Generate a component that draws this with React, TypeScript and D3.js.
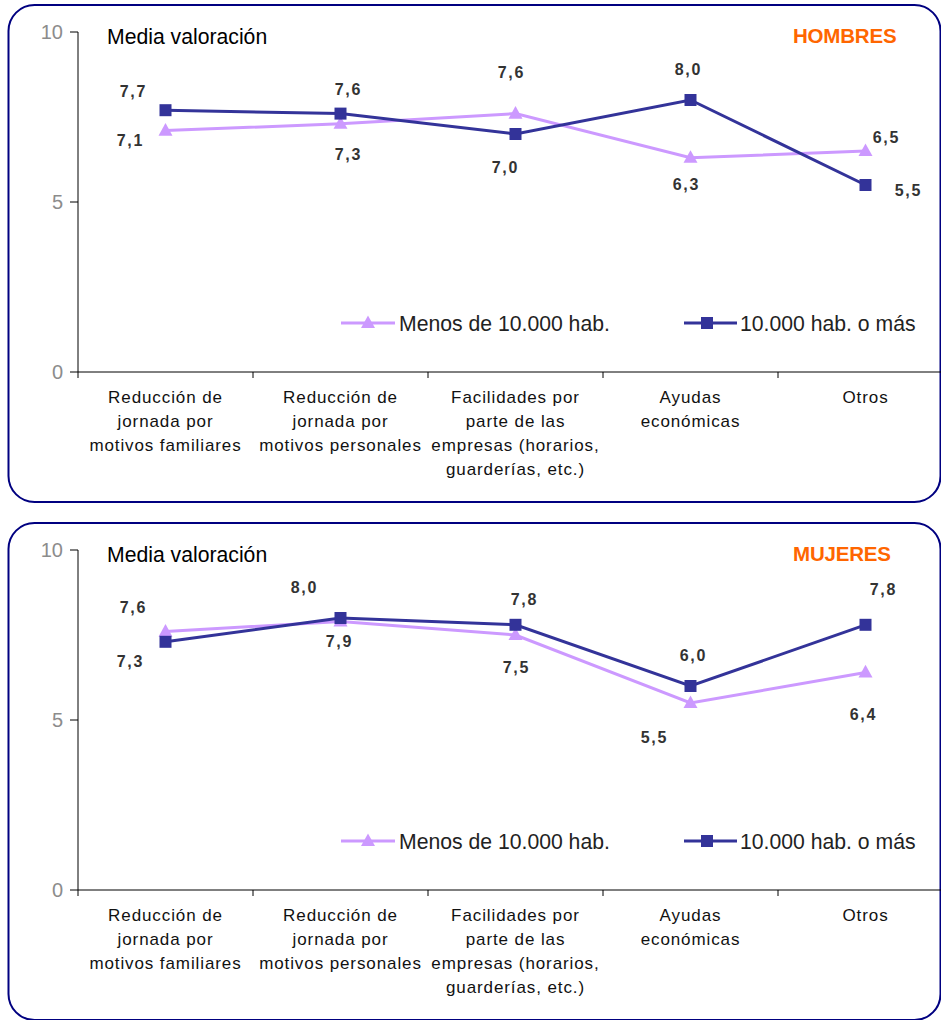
import React from "react";
import * as d3 from "d3";

const categories: string[][] = [
  ["Reducción de", "jornada por", "motivos familiares"],
  ["Reducción de", "jornada por", "motivos personales"],
  ["Facilidades por", "parte de las", "empresas (horarios,", "guarderías, etc.)"],
  ["Ayudas", "económicas"],
  ["Otros"],
];

const seriesNames = ["Menos de 10.000 hab.", "10.000 hab. o más"];

const hombresMenos = [7.1, 7.3, 7.6, 6.3, 6.5];
const hombresMas = [7.7, 7.6, 7.0, 8.0, 5.5];
const mujeresMenos = [7.6, 7.9, 7.5, 5.5, 6.4];
const mujeresMas = [7.3, 8.0, 7.8, 6.0, 7.8];

const yTicks = [0, 5, 10];

// label offsets (layout), [dx, dy] from the point to label centre
const hombresMenosOff = [[-35, 10], [8, 30], [-4, -41], [-4, 26], [21, -14]];
const hombresMasOff = [[-32, -19], [8, -24], [-10, 33], [-2, -31], [43, 5]];
const mujeresMenosOff = [[-32, -24], [-1, 20], [1, 32], [-36, 34], [-2, 42]];
const mujeresMasOff = [[-35, 19], [-36, -31], [9, -26], [3, -31], [18, -36]];

const COL_LIGHT = "#CC99FF";
const COL_DARK = "#333399";
const FONT = "'Liberation Sans', Arial, sans-serif";
const fmt = (v: number) => d3.format(".1f")(v).replace(".", ",");

function tri(cx: number, cy: number, s: number) {
  const h = s * 0.9;
  return `M${cx},${cy - h * 0.6} L${cx + s / 2},${cy + h * 0.4} L${cx - s / 2},${cy + h * 0.4} Z`;
}

function Panel({ top, title, menos, mas, menosOff, masOff }: any) {
  const x = d3.scaleBand<number>().domain(d3.range(categories.length)).range([78, 953]);
  const y = d3.scaleLinear().domain([0, 10]).range([top + 367, top + 27]);
  const cx = (i: number) => (x(i) as number) + x.bandwidth() / 2;
  const line = d3
    .line<number>()
    .x((_, i) => cx(i))
    .y((d) => y(d));
  const y0 = y(0);
  const legY = top + 318;
  const labelProps = {
    dy: "0.36em",
    textAnchor: "middle" as const,
    fontSize: 16,
    fontWeight: "bold",
    letterSpacing: 1.8,
    fill: "#333",
    fontFamily: FONT,
  };
  return (
    <g>
      <rect x={8.5} y={top} width={932} height={497} rx={26} ry={26} fill="white" stroke="#000080" strokeWidth={2} />
      {/* y axis */}
      <line x1={78} x2={78} y1={y(10)} y2={y0} stroke="#000" strokeWidth={1} />
      {yTicks.map((t) => (
        <g key={t}>
          <line x1={70} x2={78} y1={y(t)} y2={y(t)} stroke="#000" />
          <text x={63} y={y(t)} dy="0.36em" textAnchor="end" fontSize={20} fill="#8c8c8c" fontFamily={FONT}>
            {t}
          </text>
        </g>
      ))}
      {/* x axis */}
      <line x1={78} x2={941} y1={y0} y2={y0} stroke="#000" strokeWidth={1} />
      {categories.map((_, i) => (
        <line key={i} x1={x(i) as number} x2={x(i) as number} y1={y0} y2={y0 + 6} stroke="#000" />
      ))}
      {categories.map((lines, i) => (
        <text key={i} textAnchor="middle" fontSize={17} letterSpacing={0.9} fill="#111" fontFamily={FONT}>
          {lines.map((l, j) => (
            <tspan key={j} x={cx(i)} y={y0 + 31 + j * 24}>
              {l}
            </tspan>
          ))}
        </text>
      ))}
      <text x={107} y={top + 39} fontSize={21.2} fill="#000" fontFamily={FONT}>
        Media valoración
      </text>
      <text x={793} y={top + 38} fontSize={20.5} fontWeight="bold" letterSpacing={-0.2} fill="#FF6600" fontFamily={FONT}>
        {title}
      </text>
      {/* series lines */}
      <path d={line(menos) as string} fill="none" stroke={COL_LIGHT} strokeWidth={3} />
      <path d={line(mas) as string} fill="none" stroke={COL_DARK} strokeWidth={3} />
      {menos.map((v: number, i: number) => (
        <path key={"t" + i} d={tri(cx(i), y(v), 14)} fill={COL_LIGHT} />
      ))}
      {mas.map((v: number, i: number) => (
        <rect key={"s" + i} x={cx(i) - 6} y={y(v) - 6} width={12} height={12} fill={COL_DARK} />
      ))}
      {menos.map((v: number, i: number) => (
        <text key={"lt" + i} x={cx(i) + menosOff[i][0]} y={y(v) + menosOff[i][1]} {...labelProps}>
          {fmt(v)}
        </text>
      ))}
      {mas.map((v: number, i: number) => (
        <text key={"ls" + i} x={cx(i) + masOff[i][0]} y={y(v) + masOff[i][1]} {...labelProps}>
          {fmt(v)}
        </text>
      ))}
      {/* legend */}
      <line x1={341} x2={395} y1={legY} y2={legY} stroke={COL_LIGHT} strokeWidth={3} />
      <path d={tri(368, legY, 14)} fill={COL_LIGHT} />
      <text x={399} y={legY} dy="0.36em" fontSize={21.2} fill="#222" fontFamily={FONT}>
        {seriesNames[0]}
      </text>
      <line x1={684} x2={737} y1={legY} y2={legY} stroke={COL_DARK} strokeWidth={3} />
      <rect x={701} y={legY - 6} width={12} height={12} fill={COL_DARK} />
      <text x={740} y={legY} dy="0.36em" fontSize={21.2} fill="#222" fontFamily={FONT}>
        {seriesNames[1]}
      </text>
    </g>
  );
}

export default function App() {
  return (
    <svg width={941} height={1020} style={{ position: "absolute", left: 0, top: 0, display: "block" }}>
      <rect width={941} height={1020} fill="white" />
      <Panel top={5} title="HOMBRES" menos={hombresMenos} mas={hombresMas} menosOff={hombresMenosOff} masOff={hombresMasOff} />
      <Panel top={523} title="MUJERES" menos={mujeresMenos} mas={mujeresMas} menosOff={mujeresMenosOff} masOff={mujeresMasOff} />
    </svg>
  );
}
